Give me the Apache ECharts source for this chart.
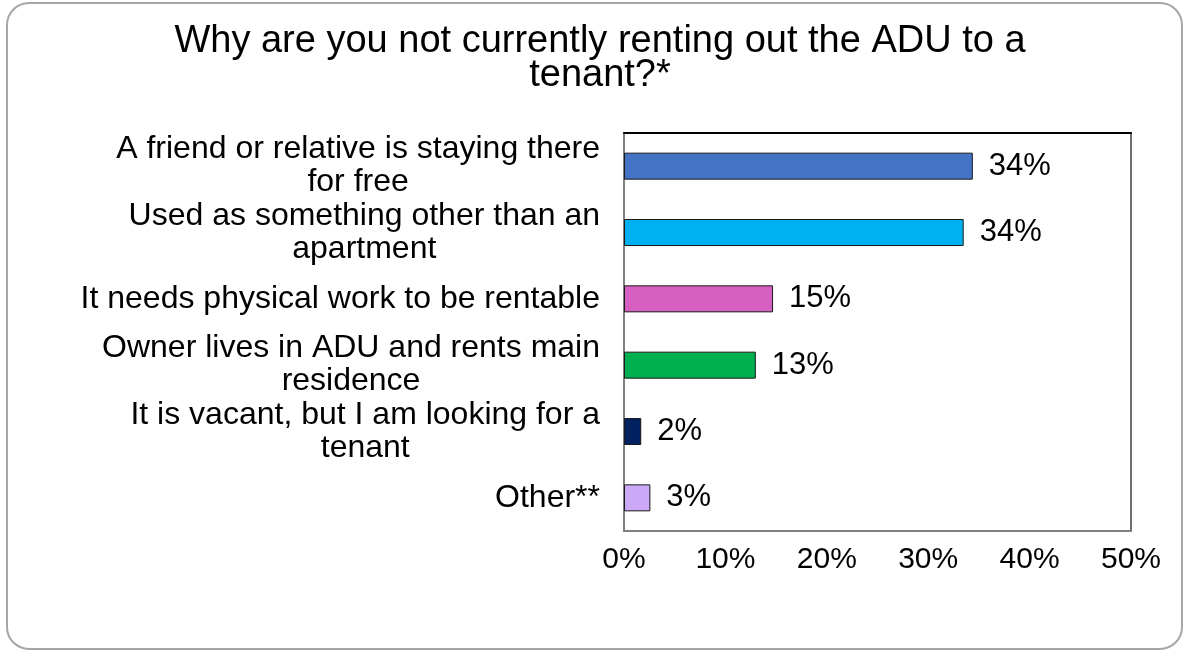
<!DOCTYPE html>
<html>
<head>
<meta charset="utf-8">
<script src="https://cdn.jsdelivr.net/npm/echarts@6/dist/echarts.min.js"></script>
<style>
  html, body { margin: 0; padding: 0; background: #ffffff; }
  #chart { width: 1185px; height: 650px; }
</style>
</head>
<body>
<div id="chart"></div>
<script>
// Reasons given for not renting the ADU out (share of respondents, %)
const categories = [
  'A friend or relative is staying there\nfor free',
  'Used as something other than an\napartment',
  'It needs physical work to be rentable',
  'Owner lives in ADU and rents main\nresidence',
  'It is vacant, but I am looking for a\ntenant',
  'Other**'
];
const shares = [34.4, 33.5, 14.7, 13.0, 1.7, 2.6];
const barColors = ['#4472C4', '#00B0F0', '#D65FC2', '#00B050', '#002060', '#CCA9F6'];
const xTicks = [0, 10, 20, 30, 40, 50];

const FONT = '"Liberation Sans", Arial, Helvetica, sans-serif';

const chart = echarts.init(document.getElementById('chart'), null, { renderer: 'canvas' });

chart.setOption({
  backgroundColor: '#ffffff',
  animation: false,
  textStyle: { fontFamily: FONT, color: '#000' },
  graphic: [{
    type: 'rect',
    silent: true,
    shape: { x: 7, y: 3, width: 1175, height: 646, r: 22 },
    style: { fill: 'none', stroke: '#a6a6a6', lineWidth: 2 }
  }],
  title: {
    text: 'Why are you not currently renting out the ADU to a\ntenant?*',
    left: 600,
    top: 25,
    padding: 0,
    textAlign: 'center',
    textStyle: {
      fontFamily: FONT,
      fontSize: 38,
      fontWeight: 'normal',
      color: '#000',
      lineHeight: 34
    }
  },
  grid: {
    left: 624,
    right: 54,
    top: 133,
    bottom: 119,
    show: true,
    borderColor: '#404040',
    borderWidth: 1.5
  },
  xAxis: [{
    type: 'value',
    min: xTicks[0],
    max: xTicks[xTicks.length - 1],
    interval: xTicks[1] - xTicks[0],
    splitLine: { show: false },
    axisTick: { show: false },
    axisLine: { show: true, lineStyle: { color: '#808080', width: 2 } },
    axisLabel: {
      formatter: '{value}%',
      fontFamily: FONT,
      fontSize: 30,
      color: '#000',
      margin: 14
    }
  }, {
    type: 'value',
    position: 'top',
    min: xTicks[0],
    max: xTicks[xTicks.length - 1],
    splitLine: { show: false },
    axisTick: { show: false },
    axisLabel: { show: false },
    axisLine: { show: true, lineStyle: { color: '#000', width: 2 } }
  }],
  yAxis: {
    type: 'category',
    data: categories,
    inverse: true,
    axisTick: { show: false },
    axisLine: { show: true, lineStyle: { color: '#808080', width: 2 } },
    axisLabel: {
      margin: 24,
      color: '#000',
      formatter: v => v.split('\n').map(line => '{c|' + line + '}').join('\n'),
      rich: {
        c: {
          align: 'center',
          fontFamily: FONT,
          fontSize: 32,
          lineHeight: 33,
          color: '#000'
        }
      }
    }
  },
  series: [{
    type: 'bar',
    xAxisIndex: 0,
    barWidth: 27,
    data: shares.map((v, i) => ({
      value: v,
      itemStyle: { color: barColors[i] }
    })),
    itemStyle: { borderColor: '#1a1a1a', borderWidth: 1 },
    label: {
      show: true,
      position: 'right',
      distance: 16,
      fontFamily: FONT,
      fontSize: 31,
      color: '#000',
      formatter: p => Math.round(p.value) + '%'
    }
  }]
});
</script>
</body>
</html>
